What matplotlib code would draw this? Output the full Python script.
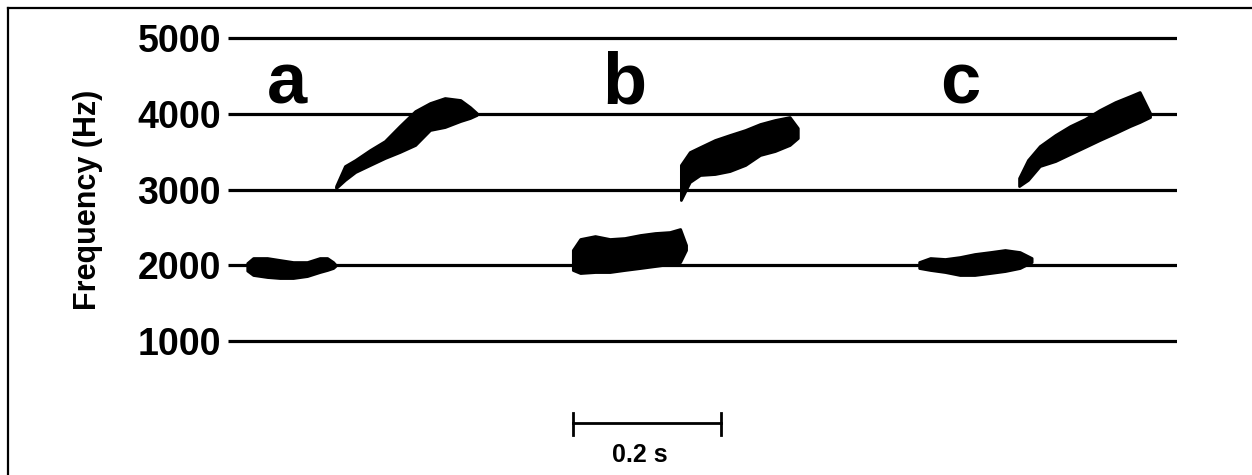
import numpy as np
import matplotlib.pyplot as plt
from matplotlib.lines import Line2D

plt.rcParams['font.family'] = ['Liberation Sans', 'DejaVu Sans']
plt.rcParams['font.weight'] = 'bold'

# frequency gridlines / ticks
yticks = [1000, 2000, 3000, 4000, 5000]
ytick_labels = ['1000', '2000', '3000', '4000', '5000']

# syllable traces: time (s), upper and lower edge of the trace (Hz)
a_low_t = [0.026, 0.034, 0.053, 0.070, 0.088, 0.107, 0.124, 0.134, 0.142, 0.145]
a_low_up = [2030, 2096, 2096, 2070, 2043, 2043, 2096, 2096, 2043, 2010]
a_low_lo = [1930, 1872, 1845, 1832, 1832, 1858, 1911, 1938, 1964, 1990]

a_high_t = [0.146, 0.158, 0.172, 0.192, 0.212, 0.232, 0.253, 0.273, 0.293, 0.314, 0.327, 0.336]
a_high_up = [3046, 3310, 3390, 3522, 3640, 3838, 4036, 4142, 4208, 4182, 4089, 4010]
a_high_lo = [3020, 3126, 3231, 3324, 3416, 3495, 3588, 3786, 3825, 3904, 3944, 3984]

b_low_t = [0.466, 0.476, 0.496, 0.516, 0.536, 0.557, 0.577, 0.597, 0.611, 0.619]
b_low_up = [2202, 2347, 2386, 2347, 2360, 2400, 2426, 2439, 2479, 2268]
b_low_lo = [1938, 1898, 1911, 1911, 1938, 1964, 1990, 2017, 2043, 2202]

b_high_t = [0.612, 0.624, 0.638, 0.658, 0.678, 0.699, 0.719, 0.739, 0.759, 0.770]
b_high_up = [3324, 3495, 3561, 3654, 3720, 3786, 3865, 3918, 3957, 3812]
b_high_lo = [2862, 3099, 3192, 3205, 3244, 3324, 3456, 3508, 3588, 3680]

c_low_t = [0.934, 0.949, 0.969, 0.989, 1.009, 1.030, 1.050, 1.070, 1.086]
c_low_up = [2043, 2096, 2083, 2109, 2149, 2175, 2202, 2175, 2096]
c_low_lo = [1964, 1938, 1911, 1872, 1872, 1898, 1924, 1964, 2043]

c_high_t = [1.069, 1.081, 1.097, 1.118, 1.138, 1.158, 1.178, 1.199, 1.219, 1.232, 1.246]
c_high_up = [3152, 3390, 3574, 3720, 3838, 3931, 4050, 4155, 4234, 4287, 4010]
c_high_lo = [3046, 3126, 3310, 3376, 3469, 3561, 3654, 3746, 3838, 3891, 3957]

# panel letters (time, freq)
letters = ['a', 'b', 'c']
letter_t = [0.080, 0.536, 0.989]
letter_f = 4142

# scale bar
bar_start = 0.466
bar_len = 0.2
bar_f = -82

fig = plt.figure(figsize=(12.52, 4.75), dpi=100)
ax = fig.add_axes([228/1252, 0, 949/1252, 1])
ax.set_xlim(0, 949/740)
ax.set_ylim(-768, 5502)
for s in ax.spines.values():
    s.set_visible(False)
ax.set_xticks([])

ax.hlines(yticks, 0, 949/740, color='k', lw=2.3, zorder=1)
ax.set_yticks(yticks)
ax.set_yticklabels(ytick_labels, fontsize=27, fontweight='bold')
ax.tick_params(axis='y', length=0, pad=5)

traces = [(a_low_t, a_low_up, a_low_lo), (a_high_t, a_high_up, a_high_lo),
          (b_low_t, b_low_up, b_low_lo), (b_high_t, b_high_up, b_high_lo),
          (c_low_t, c_low_up, c_low_lo), (c_high_t, c_high_up, c_high_lo)]
for t, up, lo in traces:
    ax.fill_between(t, lo, up, color='k', lw=2, edgecolor='k', joinstyle='round', zorder=2)

for l, t in zip(letters, letter_t):
    ax.text(t, letter_f, l, ha='center', va='baseline', fontsize=52, fontweight='bold')

# scale bar
ax.plot([bar_start, bar_start + bar_len], [bar_f, bar_f], color='k', lw=2, clip_on=False)
ax.plot([bar_start, bar_start], [50, -240], color='k', lw=2)
ax.plot([bar_start + bar_len, bar_start + bar_len], [50, -240], color='k', lw=2)
ax.text(bar_start + bar_len/2 - 0.01, -597, '0.2 s', ha='center', va='baseline',
        fontsize=18, fontweight='bold')

fig.text(88/1252, 1 - 200/475, 'Frequency (Hz)', rotation=90, ha='center', va='center',
         fontsize=22, fontweight='bold')

# frame
fig.add_artist(Line2D([8/1252, 8/1252], [0, 1 - 8/475], color='k', lw=1.6))
fig.add_artist(Line2D([8/1252, 1], [1 - 8/475, 1 - 8/475], color='k', lw=1.6))

fig.savefig('out.png', dpi=100)
